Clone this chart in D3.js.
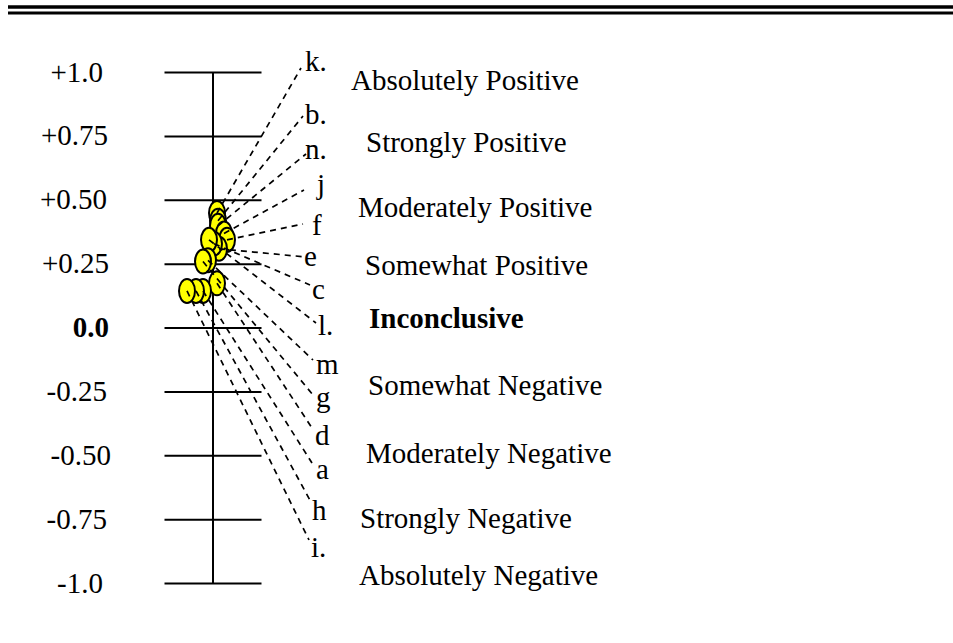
<!DOCTYPE html>
<html>
<head>
<meta charset="utf-8">
<script src="https://cdn.jsdelivr.net/npm/d3@7"></script>
<style>
  html, body { margin: 0; padding: 0; background: #fff; }
  svg { display: block; }
  text { font-family: "Liberation Serif", "Times New Roman", serif; font-size: 29px; fill: #000; }
</style>
</head>
<body>
<svg id="chart" width="953" height="643"></svg>
<script>
// Scale from -1 to +1 with verbal anchors
const ticks = [1, 0.75, 0.5, 0.25, 0, -0.25, -0.5, -0.75, -1];
const tickLabels = ["+1.0", "+0.75", "+0.50", "+0.25", "0.0", "-0.25", "-0.50", "-0.75", "-1.0"];
const levelNames = [
  "Absolutely Positive", "Strongly Positive", "Moderately Positive", "Somewhat Positive",
  "Inconclusive",
  "Somewhat Negative", "Moderately Negative", "Strongly Negative", "Absolutely Negative"
];

// Rated items and their scores
const items = ["k.", "b.", "n.", "j", "f", "e", "c", "l.", "m", "g", "d", "a", "h", "i."];
const scores = [0.45, 0.42, 0.40, 0.37, 0.345, 0.31, 0.33, 0.345, 0.265, 0.26, 0.175, 0.145, 0.145, 0.145];

// ---- layout ----
const tickLabelRight = [103, 108, 107, 109, 109, 107, 111, 107, 103];
const levelX = [351, 366, 358, 365, 369, 368, 366, 360, 359];
const levelBaseline = [90, 152, 217, 275, 328, 395, 463, 528, 585];
const markerDx = [4, 5, 5, 11, 14, 6, 1, -4, -5, -10, 4, -10, -17, -26];
// callout: line end (x, y), label left x, label baseline
const callouts = [
  [301, 68, 305, 71], [303, 116, 305, 124], [306, 154, 305, 159], [304, 190, 317, 194],
  [303, 224, 312, 235], [306, 257, 304, 266], [310, 285, 312, 299], [316, 323, 318, 335],
  [313, 360, 316, 374], [313, 395, 316, 407], [312, 428, 315, 445], [312, 463, 316, 479],
  [311, 502, 312, 520], [309, 540, 311, 557]
];

const svg = d3.select("#chart");
const axisX = 213, tickHalf = 48.5;
const y = d3.scaleLinear().domain([-1, 1]).range([583.5, 72.5]);

// double rule across the top
svg.append("line").attr("x1", 8).attr("x2", 953).attr("y1", 7).attr("y2", 7)
  .attr("stroke", "#000").attr("stroke-width", 3.5);
svg.append("line").attr("x1", 8).attr("x2", 953).attr("y1", 13).attr("y2", 13)
  .attr("stroke", "#000").attr("stroke-width", 3);

// vertical scale line and tick bars
svg.append("line").attr("x1", axisX).attr("x2", axisX)
  .attr("y1", y(1)).attr("y2", y(-1))
  .attr("stroke", "#000").attr("stroke-width", 2);
svg.selectAll("line.tick").data(ticks).join("line").attr("class", "tick")
  .attr("x1", axisX - tickHalf).attr("x2", axisX + tickHalf)
  .attr("y1", d => y(d)).attr("y2", d => y(d))
  .attr("stroke", "#000").attr("stroke-width", 2);

// numeric tick labels
svg.selectAll("text.tl").data(ticks).join("text").attr("class", "tl")
  .attr("text-anchor", "end")
  .attr("x", (d, i) => tickLabelRight[i]).attr("y", d => y(d) + 9)
  .style("font-weight", d => d === 0 ? "bold" : null)
  .text((d, i) => tickLabels[i]);

// verbal level names
svg.selectAll("text.lv").data(ticks).join("text").attr("class", "lv")
  .attr("x", (d, i) => levelX[i]).attr("y", (d, i) => levelBaseline[i])
  .style("font-weight", d => d === 0 ? "bold" : null)
  .text((d, i) => levelNames[i]);

// item markers
const data = items.map((name, i) => ({ name, score: scores[i], dx: markerDx[i], c: callouts[i] }));
svg.selectAll("ellipse.m").data(data).join("ellipse").attr("class", "m")
  .attr("cx", d => axisX + d.dx).attr("cy", d => y(d.score))
  .attr("rx", 8).attr("ry", 12)
  .attr("fill", "#ffff00").attr("stroke", "#000").attr("stroke-width", 2);

// dashed callouts
svg.selectAll("line.co").data(data).join("line").attr("class", "co")
  .attr("x1", d => axisX + d.dx).attr("y1", d => y(d.score))
  .attr("x2", d => d.c[0]).attr("y2", d => d.c[1])
  .attr("stroke", "#000").attr("stroke-width", 1.7).attr("stroke-dasharray", "6,5");

// item letters
svg.selectAll("text.it").data(data).join("text").attr("class", "it")
  .attr("x", d => d.c[2]).attr("y", d => d.c[3])
  .text(d => d.name);
</script>
</body>
</html>
